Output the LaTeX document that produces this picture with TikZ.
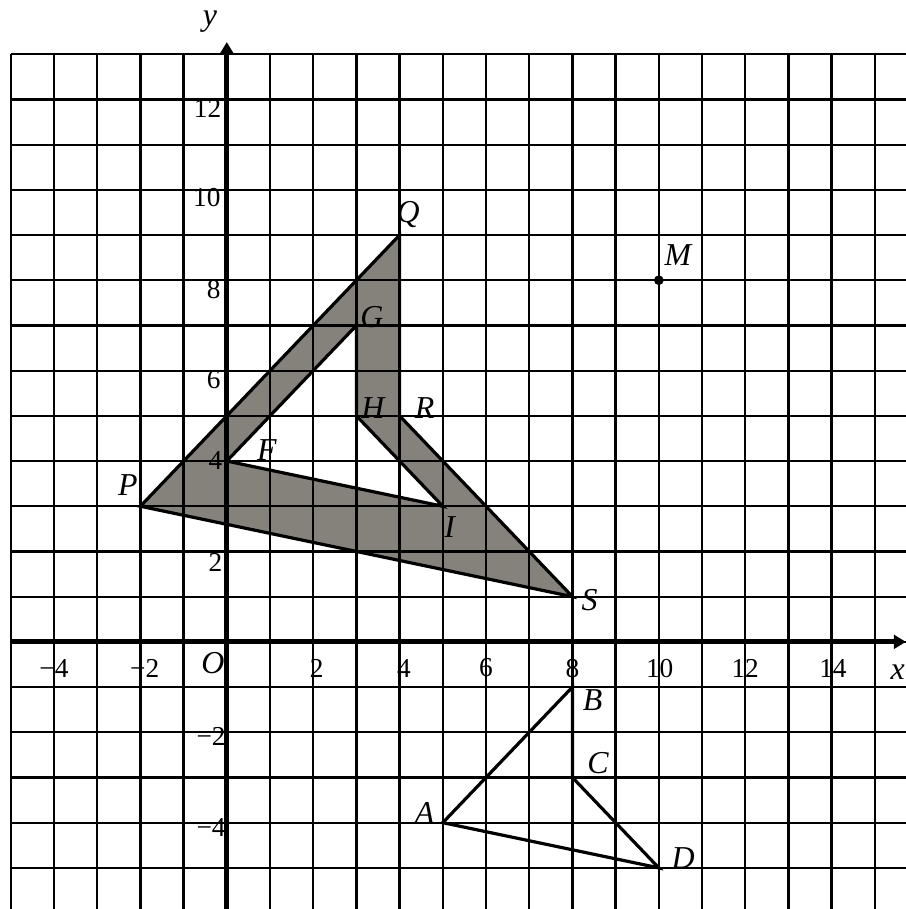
\documentclass[tikz,border=0pt]{standalone}
\usepackage{fontspec}
\setmainfont{Liberation Serif}
\usetikzlibrary{arrows.meta}
\definecolor{shadegray}{RGB}{132,130,122}
\begin{document}
\begin{tikzpicture}[x=1cm,y=1.0463cm,
  gridline/.style={line width=1.5pt},
  axisline/.style={line width=3.2pt,-{Triangle[length=8pt,width=9pt]}},
  shapeline/.style={line width=2.1pt,line join=miter},
  num/.style={font=\fontsize{18}{20}\selectfont, inner sep=0pt},
  lab/.style={font=\fontsize{21}{24}\selectfont\itshape, inner sep=0pt}]
\useasboundingbox (-5.25,-5.91) rectangle (15.72,14.2);
\fill[white] (-5.25,-5.91) rectangle (15.72,14.2);
% vertices
\coordinate (P) at (-2,3);
\coordinate (Q) at (4,9);
\coordinate (R) at (4,5);
\coordinate (S) at (8,1);
\coordinate (F) at (0,4);
\coordinate (G) at (3,7);
\coordinate (H) at (3,5);
\coordinate (I) at (5,3);
\coordinate (A) at (5,-4);
\coordinate (B) at (8,-1);
\coordinate (C) at (8,-3);
\coordinate (D) at (10,-5);
\coordinate (M) at (10,8);
\coordinate (xstart) at (-5,0);
\coordinate (xend) at (15.72,0);
\coordinate (ystart) at (0,-6);
\coordinate (yend) at (0,13.27);
% shaded region
\fill[shadegray,even odd rule] (P)--(Q)--(R)--(S)--cycle (F)--(G)--(H)--(I)--cycle;
% grid
\foreach \x in {-5,...,15} \draw[gridline] (\x,13) -- (\x,-6);
\foreach \y in {-5,...,13} \draw[gridline] (-5,\y) -- (16,\y);
% axes
\draw[axisline] (xstart) -- (xend);
\draw[axisline] (ystart) -- (yend);
% shapes
\draw[shapeline] (P)--(Q)--(R)--(S)--cycle;
\draw[shapeline] (F)--(G)--(H)--(I)--cycle;
\draw[shapeline] (A)--(B)--(C)--(D)--cycle;
\fill (M) circle (3.2pt);
% axis labels
\node[lab,anchor=east] (xl) at (15.7,-0.66) {x};
\node[lab] (yl) at (-0.39,13.72) {y};
\node[lab] (O) at (-0.32,-0.46) {O};
% x tick labels
\node[num] (xm4) at (-4,-0.58) {−4};
\node[num] (xm2) at (-1.9,-0.58) {−2};
\node[num] (x2) at (2.08,-0.58) {2};
\node[num] (x4) at (4.1,-0.58) {4};
\node[num] (x6) at (6,-0.58) {6};
\node[num] (x8) at (8,-0.58) {8};
\node[num] (x10) at (10.02,-0.58) {10};
\node[num] (x12) at (12,-0.58) {12};
\node[num] (x14) at (14.03,-0.58) {14};
% y tick labels
\node[num,anchor=east] (y12) at (-0.12,11.8) {12};
\node[num,anchor=east] (y10) at (-0.14,9.82) {10};
\node[num,anchor=east] (y8) at (-0.14,7.79) {8};
\node[num,anchor=east] (y6) at (-0.14,5.8) {6};
\node[num,anchor=east] (y4) at (-0.1,4.02) {4};
\node[num,anchor=east] (y2) at (-0.1,1.75) {2};
\node[num,anchor=east] (ym2) at (-0.02,-2.1) {−2};
\node[num,anchor=east] (ym4) at (-0.02,-4.1) {−4};
% point labels
\node[lab] (lQ) at (4.2,9.45) {Q};
\node[lab] (lM) at (10.44,8.56) {M};
\node[lab] (lG) at (3.36,7.19) {G};
\node[lab] (lH) at (3.38,5.18) {H};
\node[lab] (lR) at (4.58,5.18) {R};
\node[lab] (lF) at (0.93,4.25) {F};
\node[lab] (lP) at (-2.29,3.47) {P};
\node[lab] (lI) at (5.16,2.54) {I};
\node[lab] (lS) at (8.4,0.93) {S};
\node[lab] (lB) at (8.47,-1.28) {B};
\node[lab] (lC) at (8.59,-2.68) {C};
\node[lab] (lA) at (4.58,-3.78) {A};
\node[lab] (lD) at (10.56,-4.78) {D};
\end{tikzpicture}
\end{document}
